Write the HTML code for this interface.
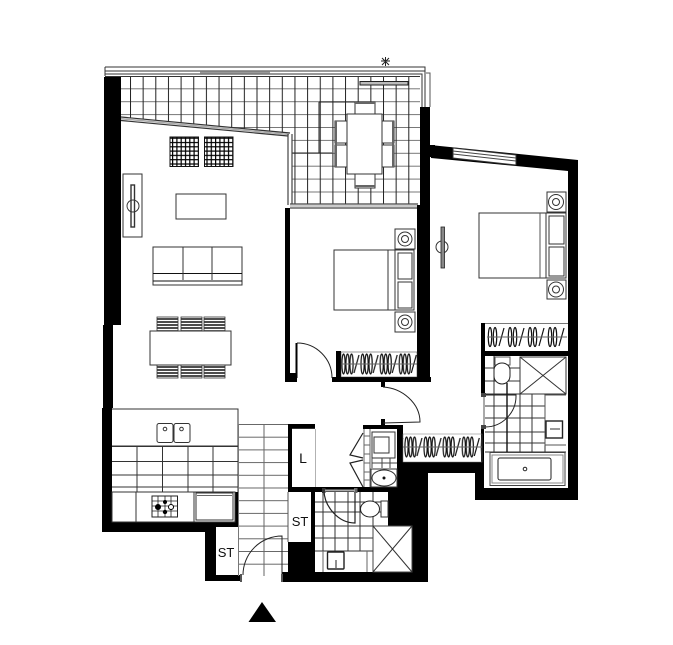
<!DOCTYPE html>
<html><head><meta charset="utf-8"><style>
html,body{margin:0;padding:0;background:#fff}
svg{display:block}
text{font-family:"Liberation Sans",sans-serif;fill:#111}
</style></head><body>
<svg width="673" height="645" viewBox="0 0 673 645" xmlns="http://www.w3.org/2000/svg">
<defs>
<pattern id="t1" patternUnits="userSpaceOnUse" x="130" y="88.3" width="12.65" height="12.9"><path d="M0 0H12.65" stroke="#777" stroke-width="2" fill="none"/><path d="M0 0V12.9" stroke="#222" stroke-width="2" fill="none"/></pattern>
<pattern id="t2" patternUnits="userSpaceOnUse" x="238" y="424" width="25.5" height="12.7"><path d="M0 0V12.7M0 0H25.5" stroke="#666" stroke-width="2" fill="none"/></pattern>
<pattern id="t4" patternUnits="userSpaceOnUse" x="494" y="405" width="12.6" height="12.6"><path d="M0 0V12.6M0 0H12.6" stroke="#333" stroke-width="2" fill="none"/></pattern>
<pattern id="w" patternUnits="userSpaceOnUse" x="341" y="352" width="19.1" height="25">
<g fill="none" stroke="#111" stroke-width="1.2"><ellipse cx="2.500" cy="12" rx="1.600" ry="10"/><ellipse cx="6.500" cy="12" rx="1.600" ry="10"/><ellipse cx="10.500" cy="12" rx="1.600" ry="10"/><path d="M13 21L18 3"/><path d="M0 12H19.100" stroke="#666" stroke-width="1"/></g></pattern>
<pattern id="w2" patternUnits="userSpaceOnUse" x="404" y="435" width="19.1" height="26">
<g fill="none" stroke="#111" stroke-width="1.2"><ellipse cx="2.500" cy="12" rx="1.600" ry="10"/><ellipse cx="6.500" cy="12" rx="1.600" ry="10"/><ellipse cx="10.500" cy="12" rx="1.600" ry="10"/><path d="M13 21L18 3"/><path d="M0 12H19.100" stroke="#666" stroke-width="1"/></g></pattern>
<pattern id="w3" patternUnits="userSpaceOnUse" x="487" y="326" width="20" height="24">
<g fill="none" stroke="#111" stroke-width="1.2"><ellipse cx="3" cy="11" rx="1.700" ry="9.500"/><ellipse cx="8" cy="11" rx="1.700" ry="9.500"/><path d="M12 20L17 2"/><path d="M0 11H20" stroke="#666" stroke-width="1"/></g></pattern>
<pattern id="g" patternUnits="userSpaceOnUse" width="4.3" height="4.3"><path d="M0 0V4.3M0 0H4.3" stroke="#000" stroke-width="2.400" fill="none"/></pattern>
<pattern id="c" patternUnits="userSpaceOnUse" width="10" height="3"><path d="M0 1H10" stroke="#111" stroke-width="1.500"/></pattern>
</defs>
<rect width="673" height="645" fill="#fff"/>

<!-- tile fields -->
<polygon points="121,77 420,77 420,204 292,204 292,133 121,117" fill="url(#t1)"/>
<path d="M319 102V153M319 102H355M292 153H332" stroke="#222" stroke-width="1" fill="none"/>
<rect x="238" y="424" width="50" height="152" fill="url(#t2)"/>
<path d="M112 446.500H238M112 461.500H238M112 475H238M112 487H238M137 446V492M162.500 446V492M188 446V492M213 446V492M238 410V492" stroke="#333" stroke-width="1" fill="none"/>

<!-- balcony rail -->
<path d="M105 67H425V107M105 71H425M105 74H422V107M105 76.500H420" stroke="#333" stroke-width="1" fill="none"/>
<path d="M430 107V73H426" stroke="#555" fill="none" stroke-width="1"/>
<path d="M105 67V76" stroke="#333" stroke-width="1"/>
<path d="M200 72.800H270" stroke="#999" stroke-width="2"/>
<path d="M121 117L290 133M121 120.500L288 136" stroke="#333" stroke-width="1.200"/>
<path d="M121 118.700L289 134.500" stroke="#aaa" stroke-width="1.500"/>
<path d="M288 134V205M292 134V204" stroke="#444" stroke-width="1.200"/>
<path d="M290 204H418M290 208H418" stroke="#444" stroke-width="1.200"/>
<path d="M290 206H418" stroke="#bbb" stroke-width="1.500"/>

<!-- black walls -->
<g fill="#000">
<rect x="104" y="77" width="17" height="248"/>
<rect x="103" y="325" width="10" height="83"/>
<rect x="102" y="408" width="10" height="124"/>
<rect x="102" y="522" width="114" height="10"/>
<rect x="205" y="522" width="11" height="59"/>
<rect x="205" y="575" width="36" height="6"/>
<rect x="216" y="522" width="22" height="5"/>
<rect x="234" y="492" width="4" height="35"/>
<rect x="282" y="572" width="146" height="10"/>
<rect x="288" y="542" width="27" height="40"/>
<rect x="288" y="424" width="27" height="5"/>
<rect x="288" y="424" width="4" height="68"/>
<rect x="288" y="487" width="28" height="5"/>
<rect x="311" y="487" width="4" height="90"/>
<rect x="315" y="487" width="90" height="5"/>
<rect x="388" y="487" width="40" height="39"/>
<rect x="403" y="462" width="25" height="64"/>
<rect x="412" y="526" width="16" height="56"/>
<rect x="403" y="462" width="72" height="11"/>
<rect x="397" y="425" width="6" height="65"/>
<rect x="363" y="425" width="40" height="4"/>
<rect x="475" y="462" width="9" height="38"/>
<rect x="481" y="427" width="3" height="36"/>
<rect x="481" y="323" width="4" height="72"/>
<rect x="475" y="488" width="103" height="12"/>
<rect x="568" y="165" width="10" height="335"/>
<rect x="481" y="351" width="87" height="5"/>
<polygon points="430,145 578,160 578,172 568,171 431,158"/>
<rect x="420" y="107" width="10" height="275"/>
<rect x="417" y="205" width="3" height="176"/>
<rect x="430" y="145" width="5" height="12"/>
<rect x="285" y="208" width="5" height="174"/>
<rect x="285" y="373" width="12" height="9"/>
<rect x="332" y="377" width="99" height="5"/>
<rect x="336" y="351" width="5" height="27"/>
<rect x="381" y="382" width="4" height="5"/>
<rect x="381" y="419" width="4" height="6"/>
</g>
<path d="M315 429V487M292 429H315" stroke="#666" stroke-width="1" fill="none"/>

<!-- window -->
<polygon points="453,148 516,155 516,165 453,158" fill="#fff" stroke="#333" stroke-width="1"/>
<path d="M453 151L516 158M453 154L516 161" stroke="#444" stroke-width="1"/>

<!-- star -->
<g stroke="#222" stroke-width="1"><path d="M381 61H390M385.500 57V66M382 58L389 65M389 58L382 65"/></g>

<!-- outdoor table -->
<rect x="360" y="81.500" width="48" height="3.500" fill="#bbb" stroke="#222" stroke-width="1"/>
<g fill="#fff" stroke="#333" stroke-width="1">
<rect x="355" y="102" width="20" height="13"/><rect x="355" y="174" width="20" height="14"/>
<rect x="335" y="121" width="13" height="22"/><rect x="335" y="145" width="13" height="22"/>
<rect x="381" y="121" width="13" height="22"/><rect x="381" y="145" width="13" height="22"/>
<rect x="347" y="114" width="35" height="60"/>
</g>
<path d="M355 186H375M355 103H375M336 121V167M393 121V167" stroke="#666" stroke-width="2"/>

<!-- living furniture -->
<rect x="170" y="137" width="28.500" height="29.500" fill="url(#g)" stroke="#111"/>
<rect x="204.500" y="137" width="28.500" height="29.500" fill="url(#g)" stroke="#111"/>
<g fill="none" stroke="#333" stroke-width="1">
<rect x="123" y="174" width="19" height="63"/>
<rect x="131" y="185" width="3.500" height="42" stroke-width="1.400"/>
<circle cx="133" cy="206" r="6"/>
<rect x="176" y="194" width="50" height="25"/>
<rect x="153" y="247" width="89" height="38"/>
<path d="M153 273.500H242M153 281H242" stroke="#111"/>
<path d="M183 247V280M212 247V280"/>
<rect x="150" y="331" width="81" height="34" fill="#fff"/>
</g>
<g stroke="#333" fill="url(#c)" stroke-width=".8">
<rect x="157" y="317" width="21" height="14"/><rect x="181" y="317" width="21" height="14"/><rect x="204" y="317" width="21" height="14"/>
<rect x="157" y="365" width="21" height="13"/><rect x="181" y="365" width="21" height="13"/><rect x="204" y="365" width="21" height="13"/>
</g>

<!-- kitchen -->
<path d="M112 409H238V446M112 446H238" stroke="#333" fill="none" stroke-width="1"/>
<g fill="#fff" stroke="#333" stroke-width="1">
<rect x="157" y="423.500" width="16" height="19" rx="2"/><rect x="174" y="423.500" width="16" height="19" rx="2"/>
<circle cx="165" cy="429" r="1.800"/><circle cx="181.500" cy="429" r="1.800"/>
</g>
<rect x="112" y="492" width="123" height="30" fill="#fff" stroke="#333" stroke-width="1"/>
<path d="M136 492V522M194 492V522" stroke="#333" stroke-width="1"/>
<rect x="152" y="496" width="25.500" height="21" fill="none" stroke="#222" stroke-width="1"/>
<path d="M152 501H177M152 506H177M152 511H177M158 496V517M165 496V517M171 496V517" stroke="#222" stroke-width=".8"/>
<circle cx="158" cy="507" r="3" fill="#000"/><circle cx="165" cy="502" r="2" fill="#000"/><circle cx="165" cy="512" r="2.200" fill="#000"/>
<circle cx="171" cy="507" r="2.500" fill="#fff" stroke="#000"/>
<rect x="196" y="493" width="37" height="27" fill="#fff" stroke="#333" stroke-width="1"/>
<path d="M197 495.500H232" stroke="#666"/>

<!-- labels -->
<rect x="216" y="527" width="22" height="48" fill="#fff"/>
<rect x="292" y="429" width="23" height="58" fill="#fff"/>
<rect x="288" y="492" width="23" height="50" fill="#fff"/>
<path d="M288 492V542" stroke="#555"/>
<text x="303" y="463" font-size="14" text-anchor="middle">L</text>
<text x="300" y="526" font-size="13" text-anchor="middle">ST</text>
<text x="226" y="557" font-size="13" text-anchor="middle">ST</text>

<!-- entry door -->
<path d="M282 575V536A39 39 0 0 0 243 575" fill="none" stroke="#222" stroke-width="1"/>
<path d="M241 574V582M282 574V582" stroke="#555" stroke-width="2"/>
<rect x="238" y="424" width="1" height="152" fill="#777"/>

<!-- bedroom 2 -->
<g fill="#fff" stroke="#333" stroke-width="1">
<rect x="334" y="250" width="61" height="60"/>
<rect x="395" y="250" width="19" height="60"/>
<rect x="398" y="253" width="14" height="26"/><rect x="398" y="282" width="14" height="26"/>
<rect x="395" y="229" width="20" height="20"/><rect x="395" y="312" width="20" height="20"/>
<circle cx="405" cy="239" r="7"/><circle cx="405" cy="239" r="3.500"/>
<circle cx="405" cy="322" r="7"/><circle cx="405" cy="322" r="3.500"/>
</g>
<path d="M388 250V310" stroke="#333"/>
<rect x="341" y="352" width="76" height="25" fill="url(#w)" stroke="#333" stroke-width=".5"/>
<path d="M297 343A35 35 0 0 1 332 378" fill="none" stroke="#222" stroke-width="1"/>
<path d="M296.500 343V378" stroke="#000" stroke-width="2"/>

<!-- hall door -->
<path d="M383 387C402 388 420 403 420 422L383 423" fill="none" stroke="#222" stroke-width="1"/>

<!-- linen / laundry -->
<rect x="364" y="429" width="33" height="58" fill="#fff"/>
<path d="M370 429V487M364 436H370M364 445H370M364 454H370M364 463H370M364 472H370M364 480H370M364 429V487" stroke="#666" fill="none"/>
<path d="M363 433L350 455L363 458M363 460L350 463L363 487" fill="none" stroke="#222" stroke-width="1.200"/>
<rect x="372" y="432" width="23" height="26" fill="#fff" stroke="#333"/>
<rect x="374" y="437" width="15" height="16" fill="#fff" stroke="#333"/>
<path d="M372 458V468M382 458V468M390 458V468M372 463H397" stroke="#444" fill="none"/>
<rect x="371" y="469" width="26" height="18" fill="#fff" stroke="#333"/>
<ellipse cx="384" cy="478" rx="12" ry="8" fill="#fff" stroke="#333"/>
<circle cx="384" cy="478" r="1.500" fill="#111"/>

<!-- wardrobe 2 -->
<rect x="403" y="434" width="79" height="28" fill="url(#w2)" stroke="#777" stroke-width=".5"/>

<!-- bathroom 2 -->
<path d="M315 502H388M315 512H388M315 526H373M315 538H373M315 551H373M323 492V572M335 492V551M348 492V551M360 492V551M373 492V526" stroke="#333" stroke-width="1" fill="none"/>
<rect x="323" y="552" width="50" height="20" fill="#fff"/>
<path d="M367 551V572M323 551V572" stroke="#666"/>
<rect x="327.500" y="552" width="16.500" height="17" rx="1" fill="#fff" stroke="#222" stroke-width="1.400"/>
<path d="M336 560V568" stroke="#222"/>
<path d="M324 490C324 506 338 523 355 523V490" fill="none" stroke="#222" stroke-width="1.200"/>
<rect x="322" y="488" width="3.500" height="5" fill="#333"/><rect x="354" y="488" width="3.500" height="5" fill="#666"/>
<path d="M325 490.500H355" stroke="#aaa" stroke-width="2"/>
<rect x="381" y="501" width="7" height="16" fill="#fff" stroke="#333"/>
<ellipse cx="370" cy="509" rx="9.500" ry="8" fill="#fff" stroke="#222"/>
<rect x="373" y="526" width="39" height="46" fill="#fff" stroke="#444" stroke-width="1"/>
<path d="M373 526L412 572M412 526L373 572" stroke="#333" stroke-width="1"/>

<!-- bedroom 1 -->
<g fill="#fff" stroke="#333" stroke-width="1">
<rect x="479" y="213" width="67" height="65"/>
<rect x="546" y="213" width="20" height="65"/>
<rect x="549" y="216" width="15" height="28"/><rect x="549" y="247" width="15" height="29"/>
<rect x="547" y="192" width="19" height="20"/><rect x="547" y="280" width="19" height="19"/>
<circle cx="556" cy="202" r="7.500"/><circle cx="556" cy="202" r="3.500"/>
<circle cx="556" cy="289.500" r="7.500"/><circle cx="556" cy="289.500" r="3.500"/>
</g>
<path d="M540 213V278" stroke="#555"/>
<circle cx="442" cy="247" r="6" fill="#fff" stroke="#333"/>
<rect x="441" y="227" width="3.500" height="41" fill="#888" stroke="#222" stroke-width=".8"/>
<rect x="485" y="325" width="83" height="26" fill="#fff"/>
<rect x="487" y="326" width="80" height="24" fill="url(#w3)"/>
<path d="M485 323.500H568" stroke="#777"/>

<!-- bathroom 1 -->
<path d="M485 368H520M485 381H520M485 394H566M485 406H545M485 418H545M485 432H545M485 443H566M485 452H566M494 356V452M507 383V452M520 394V452M532 394V452M545 394V452" stroke="#333" fill="none"/>
<path d="M507 383V452" stroke="#111" stroke-width="1.400"/>
<rect x="520" y="357" width="46" height="37" fill="#fff" stroke="#333"/>
<path d="M520 357L566 394M566 357L520 394" stroke="#333"/>
<rect x="545" y="395" width="21" height="50" fill="#fff"/>
<path d="M545 395H566M545 395V445H566" stroke="#555" fill="none"/>
<rect x="546" y="421" width="16.500" height="17" fill="#fff" stroke="#222" stroke-width="1.400"/>
<path d="M550 429H560" stroke="#333"/>
<rect x="495" y="357" width="15" height="8" fill="#fff" stroke="#555"/>
<path d="M494 370A8 7 0 0 1 510 370V376A8 8 0 0 1 494 376Z" fill="#fff" stroke="#222"/>
<path d="M485 395H516A31 31 0 0 1 485 427" fill="none" stroke="#222" stroke-width="1"/>
<path d="M484 395V427" stroke="#aaa" stroke-width="2"/>
<rect x="481" y="393" width="5" height="4" fill="#444"/><rect x="481" y="425" width="5" height="4" fill="#444"/>
<rect x="490" y="452.500" width="75" height="33" fill="#fff" stroke="#444"/>
<rect x="492" y="455" width="71" height="28" fill="#fff" stroke="#888"/>
<rect x="498" y="458" width="53" height="22" rx="2" fill="#fff" stroke="#222"/>
<circle cx="525" cy="469" r="1.800" fill="#fff" stroke="#222"/>

<!-- north arrow -->
<polygon points="262,602 248.500,622 276,622" fill="#000"/>
</svg>
</body></html>
